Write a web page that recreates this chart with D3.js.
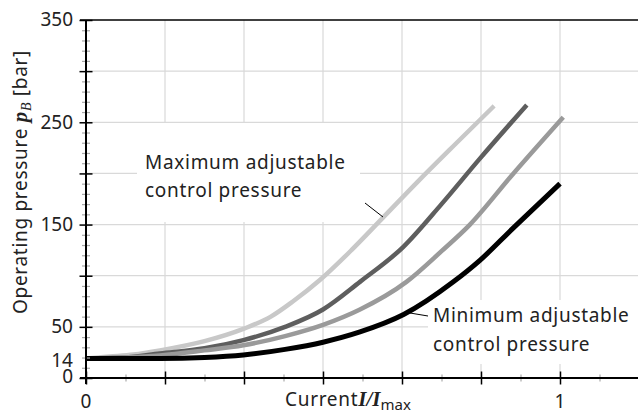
<!DOCTYPE html>
<html><head><meta charset="utf-8">
<script src="https://cdn.jsdelivr.net/npm/d3@7"></script>
<style>
body{margin:0;background:#fff;}
svg{display:block;font-family:"Noto Sans",sans-serif;}
</style></head><body>
<svg id="c" width="638" height="413"></svg>
<script>
// ---- data ----
const xMajorTicks = [0, 1/6, 2/6, 3/6, 4/6, 5/6, 1, 7/6];
const xMinorTicks = [1/12, 3/12, 5/12, 7/12, 9/12, 11/12, 13/12];
const xTickLabels = [{v:0, t:"0"}, {v:1, t:"1"}];
const yMajorTicks = [0, 50, 100, 150, 200, 250, 300, 350];
const yMinorTicks = d3.range(10, 350, 10).filter(v => v % 50 !== 0);
const yTickLabels = [0, 14, 50, 150, 250, 350];
const yGrid = [50, 100, 150, 200, 250, 300];
const xGrid = [1/6, 2/6, 3/6, 4/6, 5/6, 1];

const curveLightX = [0,0.05,0.1,0.156,0.25,0.332,0.39,0.437,0.494,0.56,0.627,0.7,0.78,0.861];
const curveLightY = [19,21,23,27,36,48,60,75,96,125,157,192,229,266];
const curveDarkX  = [0,0.08,0.156,0.25,0.332,0.42,0.5,0.578,0.669,0.75,0.83,0.93];
const curveDarkY  = [19,20,24,29,37,50,67,94,128,170,214,267];
const curveMidX   = [0,0.08,0.156,0.25,0.332,0.42,0.5,0.578,0.676,0.75,0.81,0.9,1.007];
const curveMidY   = [19,20,22,27,32,41,52,67,94,124,150,199,255];
const curveBlackX = [0,0.156,0.25,0.332,0.42,0.5,0.578,0.67,0.775,0.831,0.9,1.0];
const curveBlackY = [19,19,20,22.5,28,35,45,62,94,115,146,190];

const series = [
  {name:"light", xs:curveLightX, ys:curveLightY, color:"#c8c8c8", w:4.5},
  {name:"dark",  xs:curveDarkX,  ys:curveDarkY,  color:"#5e5e5e", w:4.5},
  {name:"mid",   xs:curveMidX,   ys:curveMidY,   color:"#9a9a9a", w:4.5},
  {name:"black", xs:curveBlackX, ys:curveBlackY, color:"#000000", w:5}
];

// ---- layout ----
const svg = d3.select("#c");
const W = 638;
const x = d3.scaleLinear().domain([0, 1]).range([86, 560]);
const y = d3.scaleLinear().domain([0, 350]).range([378, 20]);
const FS = 19;
const LS = "0.7px";

// gridlines
svg.append("g").selectAll("line").data(yGrid).join("line")
  .attr("x1", x(0)).attr("x2", W).attr("y1", d=>y(d)).attr("y2", d=>y(d))
  .attr("stroke", "#d9d9d9").attr("stroke-width", 1.2);
svg.append("g").selectAll("line").data(xGrid).join("line")
  .attr("x1", d=>x(d)).attr("x2", d=>x(d)).attr("y1", y(350)).attr("y2", y(0))
  .attr("stroke", "#d9d9d9").attr("stroke-width", 1.2);
// top line
svg.append("line").attr("x1", x(0)-6).attr("x2", W).attr("y1", y(350)).attr("y2", y(350))
  .attr("stroke", "#000").attr("stroke-width", 1.5);

// label backgrounds
svg.append("rect").attr("x", 137).attr("y", 123).attr("width", 223).attr("height", 99).attr("fill", "#fff");
svg.append("rect").attr("x", 428).attr("y", 300).attr("width", 210).attr("height", 64).attr("fill", "#fff");

// curves
const line = d3.line().x(d=>x(d[0])).y(d=>y(d[1])).curve(d3.curveMonotoneX);
series.forEach(s => {
  const pts = s.xs.map((v,i)=>[v, s.ys[i]]);
  svg.append("path").datum(pts).attr("d", line)
    .attr("fill","none").attr("stroke", s.color).attr("stroke-width", s.w)
    .attr("stroke-linecap","butt").attr("stroke-linejoin","round");
});

// axes
const xAxisMajor = svg.append("g").attr("transform", `translate(0,${y(0)})`)
  .call(d3.axisBottom(x).tickValues(xMajorTicks).tickSize(6.5).tickFormat(""));
xAxisMajor.select(".domain").remove();
xAxisMajor.selectAll(".tick line").attr("y1", -6.5).attr("stroke", "#000").attr("stroke-width", 1.5);
const xAxisMinor = svg.append("g").attr("transform", `translate(0,${y(0)})`)
  .call(d3.axisBottom(x).tickValues(xMinorTicks).tickSize(3.5).tickFormat(""));
xAxisMinor.select(".domain").remove();
xAxisMinor.selectAll(".tick line").attr("y1", -3.5).attr("stroke", "#aaa").attr("stroke-width", 1.2);
svg.append("line").attr("x1", x(0)-6).attr("x2", W).attr("y1", y(0)).attr("y2", y(0))
  .attr("stroke", "#000").attr("stroke-width", 2);

const yAxisMinor = svg.append("g").attr("transform", `translate(${x(0)},0)`)
  .call(d3.axisLeft(y).tickValues(yMinorTicks).tickSize(4).tickFormat(""));
yAxisMinor.select(".domain").remove();
yAxisMinor.selectAll(".tick line").attr("x2", 4).attr("x1", -4).attr("stroke", "#aaa").attr("stroke-width", 1.2);
const yAxisMajor = svg.append("g").attr("transform", `translate(${x(0)},0)`)
  .call(d3.axisLeft(y).tickValues(yMajorTicks).tickSize(6.5).tickFormat(""));
yAxisMajor.select(".domain").remove();
yAxisMajor.selectAll(".tick line").attr("x2", 6.5).attr("x1", -6.5).attr("stroke", "#000").attr("stroke-width", 1.5);
svg.append("line").attr("x1", x(0)).attr("x2", x(0)).attr("y1", y(350)).attr("y2", y(0)+6)
  .attr("stroke", "#000").attr("stroke-width", 2);

// tick labels (small upward offset as in the reference; 14 sits on the curves)
svg.append("g").selectAll("text").data(yTickLabels).join("text")
  .attr("x", 73).attr("y", d=>y(d) - (d === 14 ? 3 : (d === 0 ? 1.5 : 0))).attr("dy", "0.33em")
  .attr("text-anchor","end").attr("font-size", FS).attr("fill","#222").text(d=>d);
svg.append("g").selectAll("text").data(xTickLabels).join("text")
  .attr("x", d=>x(d.v)).attr("y", 408)
  .attr("text-anchor","middle").attr("font-size", FS).attr("fill","#222").text(d=>d.t);

// axis titles
const xt = svg.append("text").attr("x", 285).attr("y", 406).attr("font-size", FS).attr("fill","#222").attr("letter-spacing", LS);
xt.append("tspan").text("Current");
xt.append("tspan").attr("font-family","'Liberation Serif',serif").attr("font-style","italic").attr("font-weight","bold").attr("font-size", 21).attr("letter-spacing","0px").text("I/I");
xt.append("tspan").attr("font-size", 15).attr("dy", 3.5).attr("letter-spacing","0px").text("max");

const yt = svg.append("text").attr("transform", "translate(27,182) rotate(-90)")
  .attr("text-anchor","middle").attr("font-size", FS).attr("fill","#222").attr("letter-spacing", LS);
yt.append("tspan").text("Operating pressure ");
yt.append("tspan").attr("font-family","'Liberation Serif',serif").attr("font-style","italic").attr("font-weight","bold").attr("font-size", 21).text("p");
yt.append("tspan").attr("font-family","'Liberation Serif',serif").attr("font-style","italic").attr("font-size", 14).attr("dy", 4).text("B");
yt.append("tspan").attr("dy", -4).text(" [bar]");

// annotations
svg.append("line").attr("x1", 365).attr("y1", 203).attr("x2", 383).attr("y2", 217).attr("stroke","#000").attr("stroke-width",1);
svg.append("line").attr("x1", 410).attr("y1", 313).attr("x2", 428).attr("y2", 316).attr("stroke","#000").attr("stroke-width",1);
const a1 = svg.append("text").attr("font-size", FS).attr("fill","#222").attr("letter-spacing", LS);
a1.append("tspan").attr("x", 145).attr("y", 169).text("Maximum adjustable");
a1.append("tspan").attr("x", 145).attr("y", 197).text("control pressure");
const a2 = svg.append("text").attr("font-size", FS).attr("fill","#222").attr("letter-spacing", LS);
a2.append("tspan").attr("x", 433).attr("y", 322).text("Minimum adjustable");
a2.append("tspan").attr("x", 433).attr("y", 351).text("control pressure");
</script>
</body></html>
